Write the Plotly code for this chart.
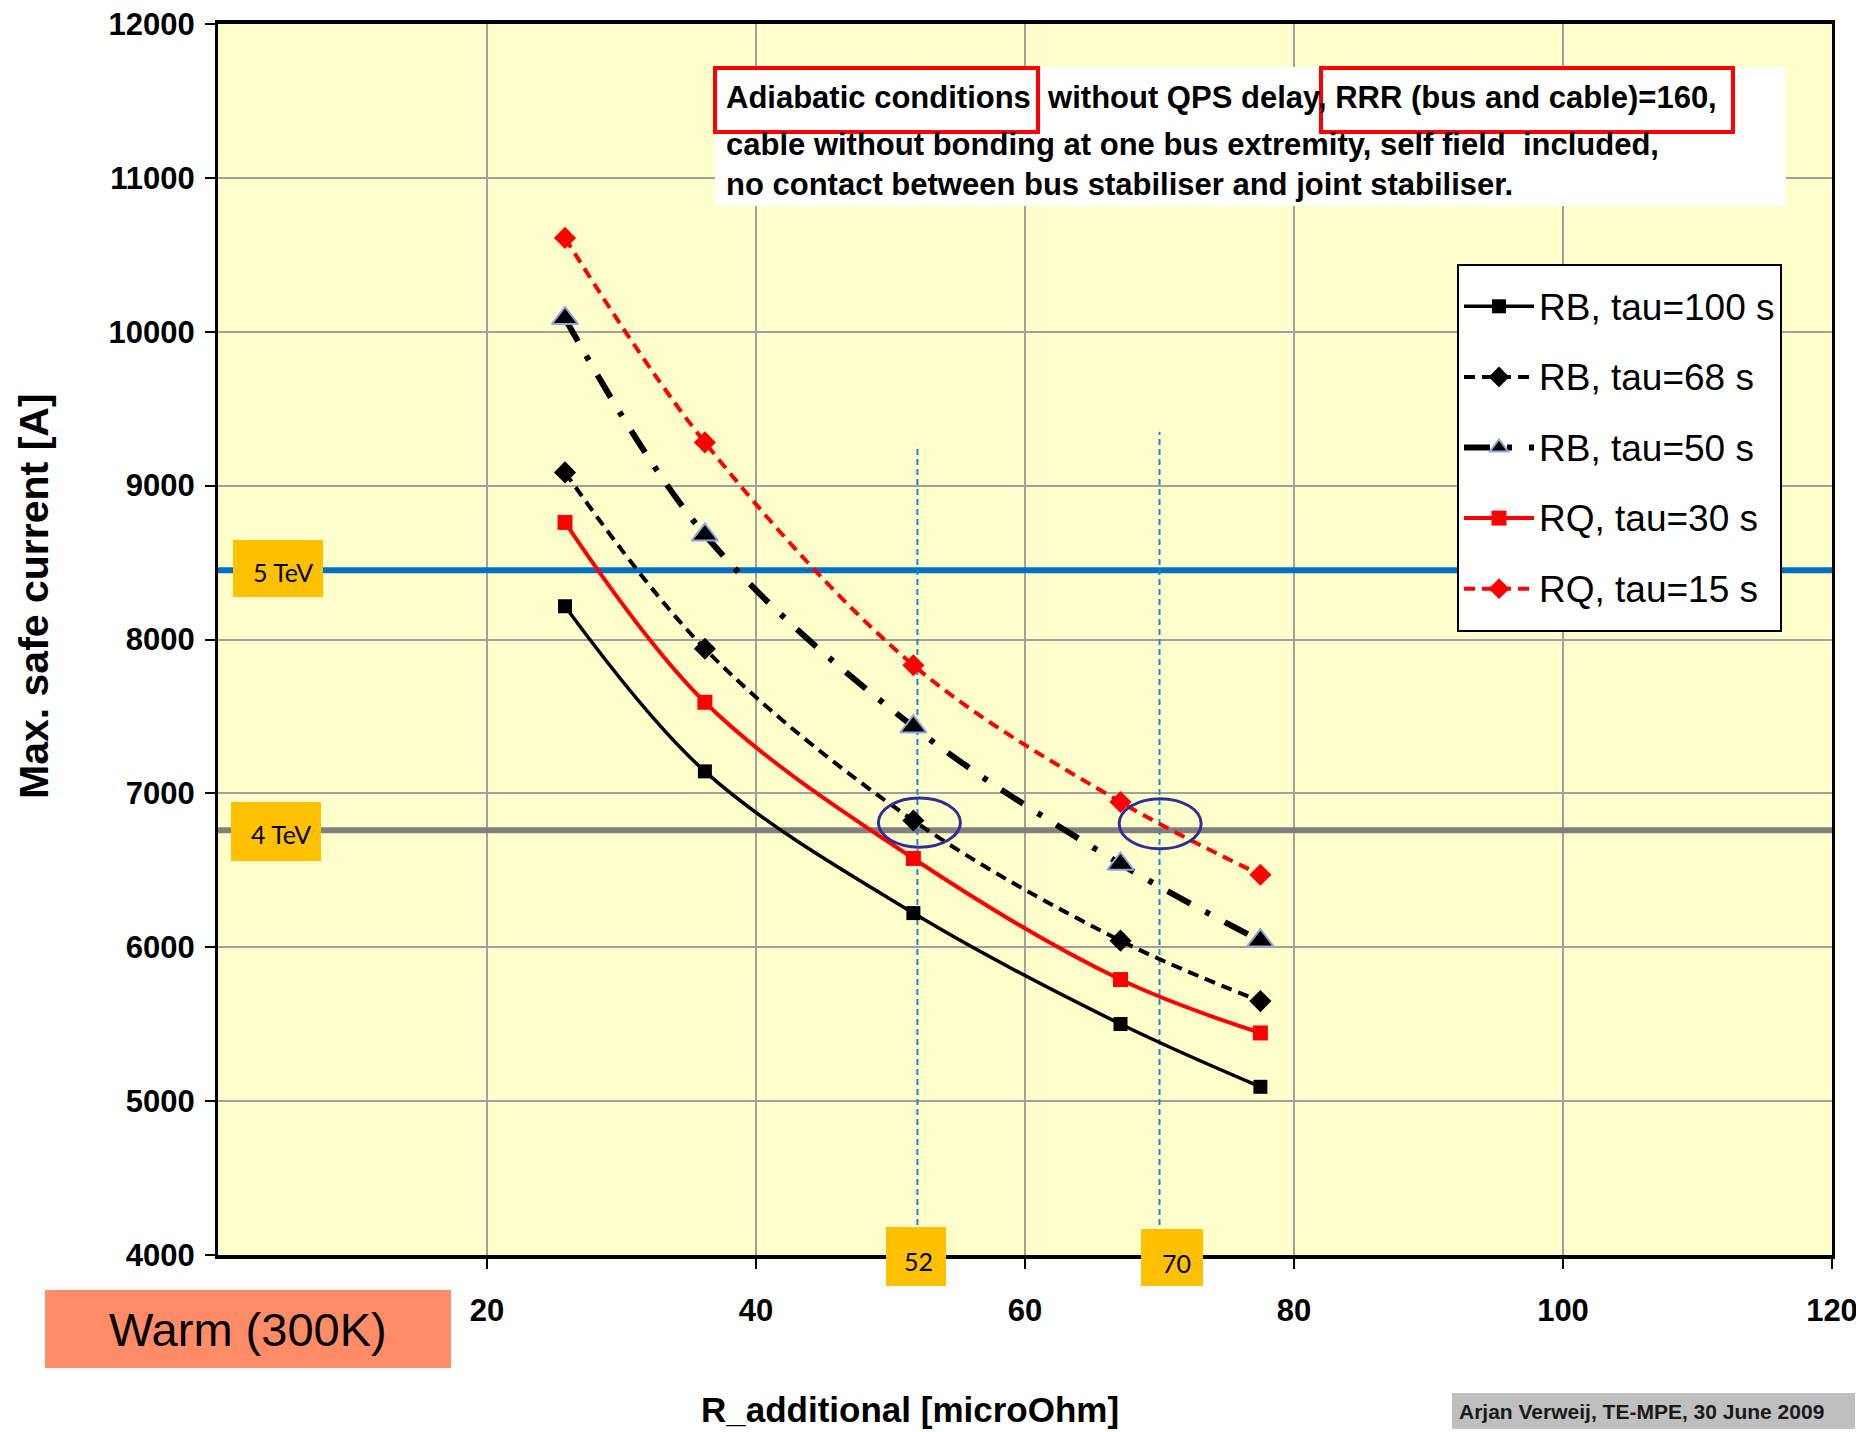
import plotly.graph_objects as go

# ---------------- data ----------------
r_additional = [25.8, 36.2, 51.7, 67.1, 77.5]          # microOhm
rb_tau100 = [8216, 7143, 6222, 5501, 5093]
rb_tau68 = [9086, 7940, 6824, 6043, 5650]
rb_tau50 = [10087, 8680, 7433, 6541, 6043]
rq_tau30 = [8761, 7592, 6577, 5790, 5443]
rq_tau15 = [10610, 9281, 7833, 6944, 6471]

series_names = ["RB, tau=100 s", "RB, tau=68 s", "RB, tau=50 s", "RQ, tau=30 s", "RQ, tau=15 s"]

energy_labels = ["5 TeV", "4 TeV"]
energy_currents = [8450, 6760]

marked_resistances = [52, 70]
marked_tops = [9265, 9350]
circle_x = [(49.1, 55.2), (67.0, 73.1)]
circle_y = [(6650, 6970), (6640, 6965)]

x_tick_values = [20, 40, 60, 80, 100, 120]
y_tick_values = [4000, 5000, 6000, 7000, 8000, 9000, 10000, 11000, 12000]

note_lines = [
    "Adiabatic conditions&nbsp; without QPS delay, RRR (bus and cable)=160,",
    "cable without bonding at one bus extremity, self field  included,",
    "no contact between bus stabiliser and joint stabiliser.",
]

# ---------------- geometry helpers (reference pixel -> paper) ----------------
OFF = 8                      # default body margin of the html page
W, H = 1864 - OFF, 1432 - OFF
L, R, T, B = 218, 1832, 24, 1255   # plot area in reference pixels


def px(x):
    return (x - L) / (R - L)


def py(y):
    return (B - y) / (B - T)


SANS = "Liberation Sans, Arial, sans-serif"
LABEL = "Lato, Noto Sans, sans-serif"

styles = [
    dict(line=dict(color="black", width=3.5), marker=dict(symbol="square", size=14, color="black")),
    dict(line=dict(color="black", width=4, dash="11px,7px"), marker=dict(symbol="diamond", size=17, color="black")),
    dict(line=dict(color="black", width=6, dash="26px,17px,5px,17px"),
         marker=dict(symbol="triangle-up", size=23, color="black", line=dict(color="#8EA9DB", width=2))),
    dict(line=dict(color="#FF0000", width=4), marker=dict(symbol="square", size=15, color="#FF0000")),
    dict(line=dict(color="#FF0000", width=4, dash="11px,7px"), marker=dict(symbol="diamond", size=17, color="#FF0000")),
]
series_values = [rb_tau100, rb_tau68, rb_tau50, rq_tau30, rq_tau15]

fig = go.Figure()
for name, vals, st in zip(series_names, series_values, styles):
    ln = dict(st["line"])
    ln["shape"] = "spline"
    fig.add_trace(go.Scatter(x=r_additional, y=vals, mode="lines+markers",
                             name='<span style="font-size:37px;baseline-shift:7px">' + name + "</span>",
                             line=ln, marker=st["marker"]))

shapes = []
annotations = []

# energy reference lines
for cur, col in zip(energy_currents, ["#0070C0", "#808080"]):
    shapes.append(dict(type="line", xref="x", yref="y", x0=0, x1=120, y0=cur, y1=cur,
                       line=dict(color=col, width=6), layer="between"))

# vertical dashed markers
for xr, top in zip(marked_resistances, marked_tops):
    shapes.append(dict(type="line", xref="x", yref="y", x0=xr, x1=xr, y0=4000, y1=top,
                       line=dict(color="#1E88D0", width=2, dash="6px,4px"), layer="between"))

# circles
for (cx0, cx1), (cy0, cy1) in zip(circle_x, circle_y):
    shapes.append(dict(type="circle", xref="x", yref="y", x0=cx0, x1=cx1, y0=cy0, y1=cy1,
                       line=dict(color="#2E3192", width=3), layer="above"))


def rect(x0, x1, y0, y1, fill=None, line_color=None, lw=0):
    d = dict(type="rect", xref="paper", yref="paper", x0=px(x0), x1=px(x1), y0=py(y1), y1=py(y0),
             layer="above")
    d["fillcolor"] = fill if fill else "rgba(0,0,0,0)"
    d["line"] = dict(color=line_color if line_color else "rgba(0,0,0,0)", width=lw)
    return d


def text(x, y, s, size, family, color="black", bold=False, xanchor="center", angle=0):
    return dict(xref="paper", yref="paper", x=px(x), y=py(y), text=s, showarrow=False,
                xanchor=xanchor, yanchor="middle", textangle=angle,
                font=dict(family=family, size=size, color=color, weight="bold" if bold else "normal"))


# energy label boxes
shapes.append(rect(233, 323, 540, 597, fill="#FFC000"))
annotations.append(text(283, 572, energy_labels[0], 25, LABEL))
shapes.append(rect(231, 321, 802, 861, fill="#FFC000"))
annotations.append(text(281, 834, energy_labels[1], 25, LABEL))

# resistance label boxes
shapes.append(rect(886, 946, 1227, 1286, fill="#FFC000"))
annotations.append(text(918, 1261, str(marked_resistances[0]), 25, LABEL))
shapes.append(rect(1141, 1203, 1229, 1286, fill="#FFC000"))
annotations.append(text(1176, 1263, str(marked_resistances[1]), 25, LABEL))

# note box
shapes.append(rect(715, 1786, 67, 206, fill="white"))
for s, yy in zip(note_lines, [97, 144, 184]):
    annotations.append(text(724, yy, s, 31, SANS, bold=True, xanchor="left"))
shapes.append(rect(715, 1038, 68, 132, line_color="#FF0000", lw=4))
shapes.append(rect(1321, 1733, 68, 132, line_color="#FF0000", lw=4))

# warm box
shapes.append(rect(45, 451, 1290, 1368, fill="#FF8C66"))
annotations.append(text(248, 1329, "Warm (300K)", 47, SANS))

# credit box
shapes.append(rect(1452, 1855, 1393, 1429, fill="#BFBFBF"))
annotations.append(text(1641, 1411, "Arjan Verweij, TE-MPE, 30 June 2009", 21, SANS, color="#1a1a1a", bold=True))

# axis titles
annotations.append(text(910, 1409, "R_additional [microOhm]", 35, SANS, bold=True))
annotations.append(text(34, 596, "Max. safe current [A]", 41, SANS, bold=True, angle=-90))

fig.update_layout(
    width=W, height=H,
    margin=dict(l=L - OFF, r=W - (R - OFF), t=T - OFF, b=H - (B - OFF), autoexpand=False),
    plot_bgcolor="#FFFFCC", paper_bgcolor="white",
    shapes=shapes, annotations=annotations,
    legend=dict(x=px(1457), y=py(264), xanchor="left", yanchor="top", bgcolor="white",
                bordercolor="black", borderwidth=2, itemwidth=70,
                font=dict(family=SANS, size=52, color="black")),
)
fig.update_xaxes(range=[0, 120], tickvals=x_tick_values, showgrid=True, gridcolor="#A0A0A0", gridwidth=2,
                 showline=True, linecolor="black", linewidth=4, mirror=True, zeroline=False,
                 ticks="outside", ticklen=10, tickwidth=2, tickcolor="black", ticklabelstandoff=15,
                 ticklabeloverflow="allow",
                 tickfont=dict(family=SANS, size=31, color="black", weight="bold"))
fig.update_yaxes(range=[4000, 12000], tickvals=y_tick_values, tickformat="d",
                 showgrid=True, gridcolor="#A0A0A0", gridwidth=2,
                 showline=True, linecolor="black", linewidth=3, mirror=True, zeroline=False,
                 ticks="outside", ticklen=10, tickwidth=2, tickcolor="black", ticklabelstandoff=4,
                 ticklabeloverflow="allow",
                 tickfont=dict(family=SANS, size=31, color="black", weight="bold"))

fig.write_html("out.html")
